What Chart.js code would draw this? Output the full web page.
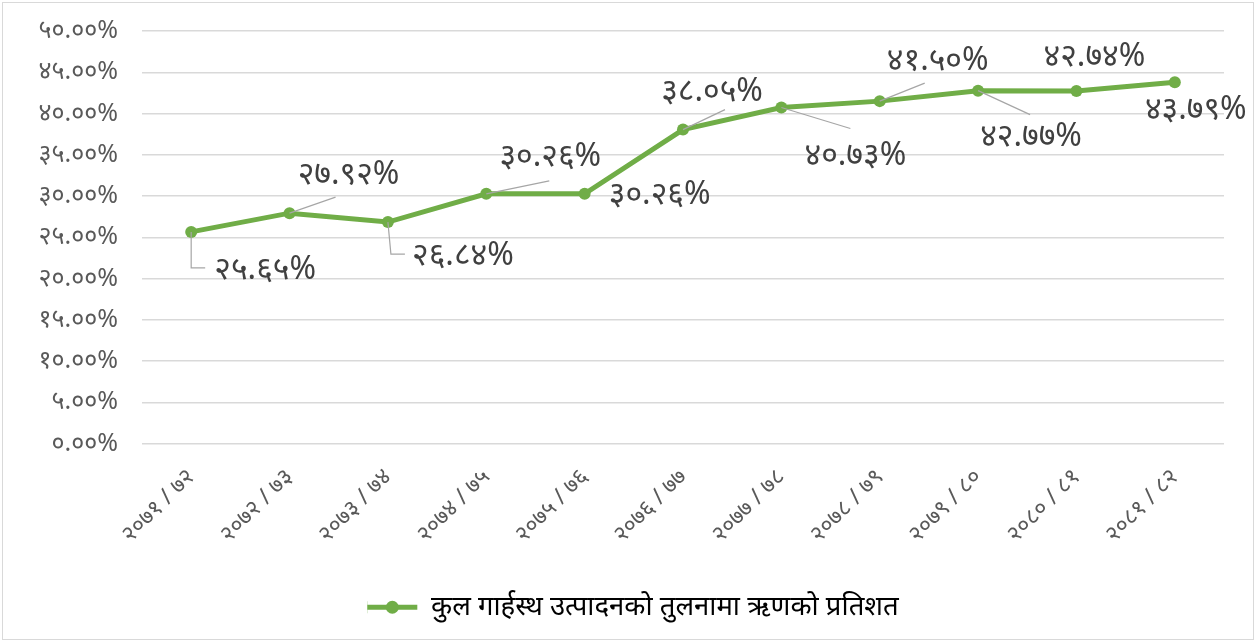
<!DOCTYPE html>
<html>
<head>
<meta charset="utf-8">
<script src="https://cdn.jsdelivr.net/npm/chart.js@4/dist/chart.umd.min.js"></script>
<style>
html,body{margin:0;padding:0;background:#fff;}
#wrap{position:absolute;left:0;top:0;width:1258px;height:643px;}
#frame{position:absolute;left:2px;top:2px;width:1250px;height:636px;border:1px solid #d9d9d9;pointer-events:none;}
canvas{position:absolute;left:0;top:0;}
</style>
</head>
<body>
<div id="wrap"><canvas id="c" width="1258" height="643"></canvas><div id="frame"></div></div>
<script>
const categories = ['२०७१/७२','२०७२/७३','२०७३/७४','२०७४/७५','२०७५/७६','२०७६/७७','२०७७/७८','२०७८/७९','२०७९/८०','२०८०/८१','२०८१/८२'];
const seriesName = 'कुल गार्हस्थ उत्पादनको तुलनामा ऋणको प्रतिशत';
const debtToGdp = [25.65, 27.92, 26.84, 30.26, 30.26, 38.05, 40.73, 41.50, 42.77, 42.74, 43.79];
const yTicks = [0, 5, 10, 15, 20, 25, 30, 35, 40, 45, 50];

// label placement (text centre offset from the point) and leader-line bends
const labelOffsets = [[74,38],[59,-38],[75,34],[64,-37],[75,1],[29,-38],[74,48],[58,-40],[53,46],[18,-34],[21,28]];
const leaders = [[[0,36],[14,36]],[[46,-16]],[[3,32],[17,32]],[[63,-13]],null,[[42,-20]],[[69,21]],[[45,-18]],[[52,24]],null,null];

const DEV = '०१२३४५६७८९';
const toDev = s => String(s).replace(/\d/g, d => DEV[+d]);
const FONT = "'Noto Sans', 'DejaVu Sans', sans-serif";

const labelPlugin = {
  id: 'dlabels',
  afterDatasetsDraw(chart) {
    const ctx = chart.ctx;
    const meta = chart.getDatasetMeta(0);
    ctx.save();
    meta.data.forEach((pt, i) => {
      const x = pt.x, y = pt.y;
      const L = leaders[i];
      if (L) {
        ctx.beginPath();
        ctx.moveTo(x, y);
        L.forEach(p => ctx.lineTo(x + p[0], y + p[1]));
        ctx.strokeStyle = '#a6a6a6';
        ctx.lineWidth = 1.2;
        ctx.stroke();
      }
      const o = labelOffsets[i];
      ctx.font = '32px ' + FONT;
      ctx.fillStyle = '#404040';
      ctx.textAlign = 'center';
      ctx.textBaseline = 'middle';
      ctx.fillText(toDev(debtToGdp[i].toFixed(2)) + '%', x + o[0], y + o[1]);
    });
    ctx.restore();
  }
};

new Chart(document.getElementById('c'), {
  type: 'line',
  data: {
    labels: categories.map(c => c.replace('/', ' / ')),
    datasets: [{
      label: seriesName,
      data: debtToGdp,
      borderColor: '#70ad47',
      backgroundColor: '#70ad47',
      borderWidth: 5,
      pointRadius: 6,
      pointBackgroundColor: '#70ad47',
      pointBorderColor: '#70ad47',
      pointBorderWidth: 0,
      tension: 0,
      fill: false
    }]
  },
  options: {
    responsive: false,
    animation: false,
    devicePixelRatio: 1,
    layout: { padding: { top: 31, right: 34, bottom: 12, left: 0 } },
    plugins: {
      legend: {
        position: 'bottom',
        labels: {
          color: '#595959',
          font: { size: 27.5, family: FONT },
          boxWidth: 50,
          boxHeight: 12,
          padding: 12,
          generateLabels(chart) {
            return [{ text: seriesName, fillStyle: '#70ad47', strokeStyle: '#70ad47', lineWidth: 0, hidden: false, datasetIndex: 0 }];
          }
        }
      },
      tooltip: { enabled: false }
    },
    scales: {
      x: {
        offset: true,
        grid: { display: false, drawTicks: false },
        border: { display: false },
        ticks: { color: '#595959', font: { size: 23, family: FONT }, minRotation: 45, maxRotation: 45, padding: 20, autoSkip: false },
        afterFit(s) { s.height = 138; }
      },
      y: {
        min: 0, max: 50,
        afterBuildTicks(s) { s.ticks = yTicks.map(v => ({ value: v })); },
        grid: { color: '#d9d9d9', lineWidth: 1.5, drawTicks: false },
        border: { display: false },
        ticks: { color: '#595959', font: { size: 25, family: FONT, lineHeight: 0.9 }, padding: 24, callback: v => toDev(v.toFixed(2)) + '%' },
        afterFit(s) { s.width = 142; s.paddingTop = 0; s.paddingBottom = 0; }
      }
    }
  },
  plugins: [labelPlugin, {
    id: 'legendShift',
    afterLayout(chart) {
      const lg = chart.legend;
      if (lg) { lg.left += 21; lg.right += 21; }
    }
  }, {
    id: 'legendLine',
    afterDraw(chart) {
      const lg = chart.legend;
      if (!lg || !lg.legendHitBoxes || !lg.legendHitBoxes.length) return;
      const hb = lg.legendHitBoxes[0];
      const ctx = chart.ctx;
      ctx.save();
      ctx.fillStyle = '#fff';
      ctx.fillRect(hb.left, hb.top, 54, hb.height);
      const cy = hb.top + hb.height / 2;
      ctx.strokeStyle = '#70ad47';
      ctx.lineWidth = 5;
      ctx.beginPath(); ctx.moveTo(hb.left, cy); ctx.lineTo(hb.left + 50, cy); ctx.stroke();
      ctx.fillStyle = '#70ad47';
      ctx.beginPath(); ctx.arc(hb.left + 25, cy, 6.5, 0, Math.PI * 2); ctx.fill();
      ctx.restore();
    }
  }]
});
</script>
</body>
</html>
